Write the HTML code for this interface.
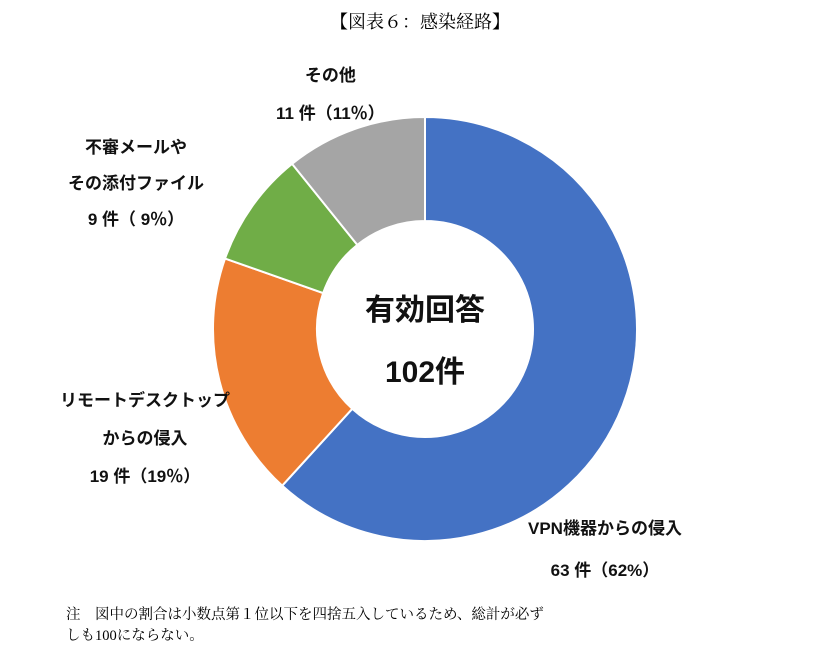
<!DOCTYPE html>
<html><head><meta charset="utf-8"><style>
body{margin:0;background:#fff;width:839px;height:665px;overflow:hidden;position:relative}
.t{position:absolute;font-family:"Liberation Serif","Noto Serif CJK SC",serif;font-size:17px;color:#000}
.l{position:absolute;font-family:"Liberation Sans","Noto Sans CJK JP",sans-serif;font-weight:bold;font-size:17px;color:#111;white-space:nowrap}
</style></head><body>
<div class="t" style="left:330px;top:8px;font-size:18px">【図表６：感染経路】</div>
<svg id="c" width="839" height="665" style="position:absolute;left:0;top:0"></svg>
<div class="l" style="left:276px;top:57px;line-height:38px;text-align:center">その他<br>11 件（11％）</div>
<div class="l" style="left:68px;top:130px;line-height:36px;text-align:center">不審メールや<br>その添付ファイル<br>9 件（ 9％）</div>
<div class="l" style="left:60px;top:382px;line-height:38px;text-align:center">リモートデスクトップ<br>からの侵入<br>19 件（19％）</div>
<div class="l" style="left:528px;top:508px;line-height:42px;text-align:center">VPN機器からの侵入<br>63 件（62%）</div>
<div class="l" style="left:345px;top:280px;font-size:30px;line-height:62px;text-align:center;width:160px">有効回答<br>102件</div>
<div class="t" style="left:66px;top:605px;font-size:14.5px;line-height:21px">注　図中の割合は小数点第１位以下を四捨五入しているため、総計が必ず<br>しも100にならない。</div>
<script>
const categories=["VPN機器からの侵入","リモートデスクトップからの侵入","不審メールやその添付ファイル","その他"];
const values=[63,19,9,11];
const colors=["#4472C4","#ED7D31","#70AD47","#A5A5A5"];
const cx=425,cy=329,R=212,r=108;
const svg=document.getElementById('c');
const total=values.reduce((a,b)=>a+b,0);
function pt(a,rad){return [cx+rad*Math.sin(a),cy-rad*Math.cos(a)];}
let a0=0;
values.forEach((v,i)=>{
 const a1=a0+v/total*2*Math.PI;
 const lg=(a1-a0)>Math.PI?1:0;
 const [x0,y0]=pt(a0,R),[x1,y1]=pt(a1,R),[x2,y2]=pt(a1,r),[x3,y3]=pt(a0,r);
 const p=document.createElementNS('http://www.w3.org/2000/svg','path');
 p.setAttribute('d',`M${x0},${y0}A${R},${R} 0 ${lg} 1 ${x1},${y1}L${x2},${y2}A${r},${r} 0 ${lg} 0 ${x3},${y3}Z`);
 p.setAttribute('fill',colors[i]);p.setAttribute('stroke','#fff');p.setAttribute('stroke-width','2');
 
 
 svg.appendChild(p);
 a0=a1;
});
</script>
</body></html>
